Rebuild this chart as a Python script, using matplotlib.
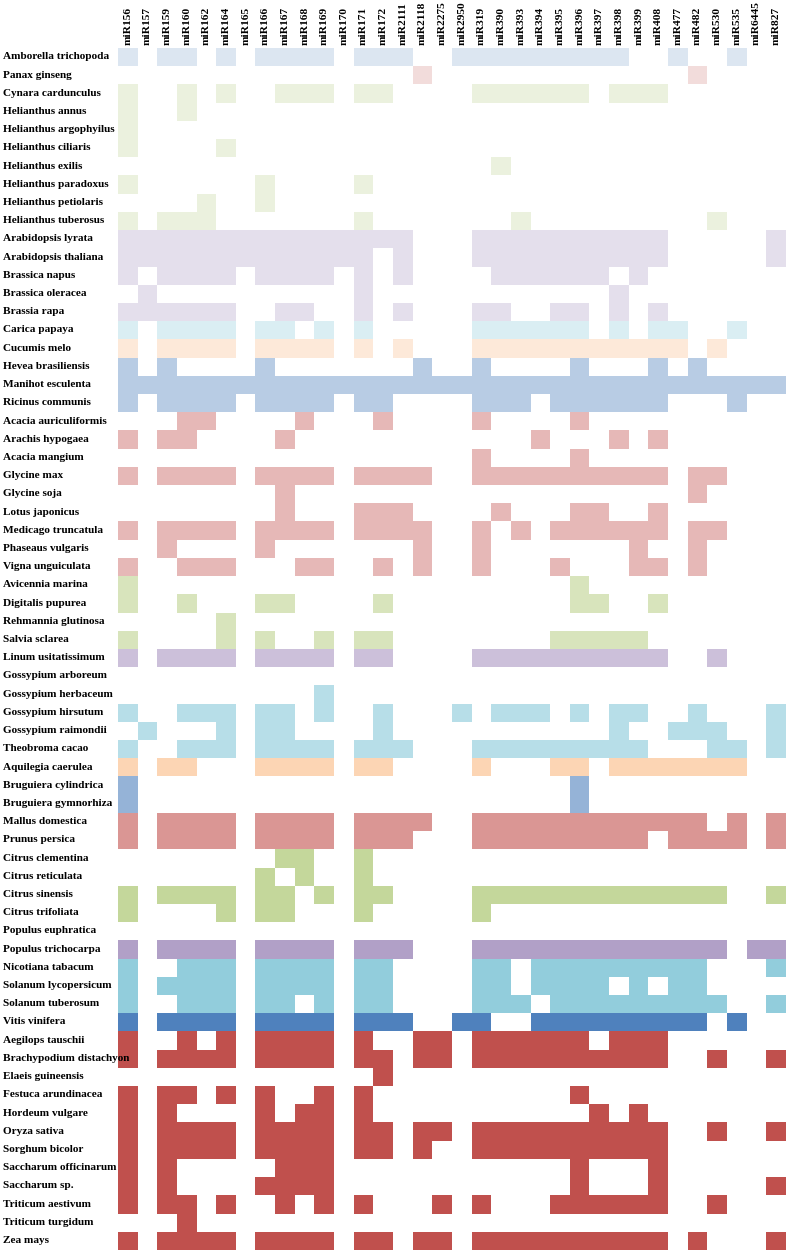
import numpy as np
import matplotlib
matplotlib.use("Agg")
import matplotlib.pyplot as plt
from matplotlib.colors import to_rgb

mirnas = ["miR156", "miR157", "miR159", "miR160", "miR162", "miR164", "miR165", "miR166",
          "miR167", "miR168", "miR169", "miR170", "miR171", "miR172", "miR2111", "miR2118",
          "miR2275", "miR2950", "miR319", "miR390", "miR393", "miR394", "miR395", "miR396",
          "miR397", "miR398", "miR399", "miR408", "miR477", "miR482", "miR530", "miR535",
          "miR6445", "miR827"]

species = ["Amborella trichopoda", "Panax ginseng", "Cynara cardunculus", "Helianthus annus",
           "Helianthus argophyilus", "Helianthus ciliaris", "Helianthus exilis",
           "Helianthus paradoxus", "Helianthus petiolaris", "Helianthus tuberosus",
           "Arabidopsis lyrata", "Arabidopsis thaliana", "Brassica napus", "Brassica oleracea",
           "Brassia rapa", "Carica papaya", "Cucumis melo", "Hevea brasiliensis",
           "Manihot esculenta", "Ricinus communis", "Acacia auriculiformis", "Arachis hypogaea",
           "Acacia mangium", "Glycine max", "Glycine soja", "Lotus japonicus",
           "Medicago truncatula", "Phaseaus vulgaris", "Vigna unguiculata", "Avicennia marina",
           "Digitalis pupurea", "Rehmannia glutinosa", "Salvia sclarea", "Linum usitatissimum",
           "Gossypium arboreum", "Gossypium herbaceum", "Gossypium hirsutum",
           "Gossypium raimondii", "Theobroma cacao", "Aquilegia caerulea",
           "Bruguiera cylindrica", "Bruguiera gymnorhiza", "Mallus domestica", "Prunus persica",
           "Citrus clementina", "Citrus reticulata", "Citrus sinensis", "Citrus trifoliata",
           "Populus euphratica", "Populus trichocarpa", "Nicotiana tabacum",
           "Solanum lycopersicum", "Solanum tuberosum", "Vitis vinifera", "Aegilops tauschii",
           "Brachypodium distachyon", "Elaeis guineensis", "Festuca arundinacea",
           "Hordeum vulgare", "Oryza sativa", "Sorghum bicolor", "Saccharum officinarum",
           "Saccharum sp.", "Triticum aestivum", "Triticum turgidum", "Zea mays"]

# family group of each species (same order as species)
groups = (["amborella", "panax"] + ["aster"] * 8 + ["brassica"] * 5 + ["carica", "cucumis"]
          + ["euphorb"] * 3 + ["fabaceae"] * 9 + ["lamiales"] * 4 + ["linum"]
          + ["malvaceae"] * 5 + ["aquilegia"] + ["bruguiera"] * 2 + ["rosaceae"] * 2
          + ["citrus"] * 4 + ["populus"] * 2 + ["solanaceae"] * 3 + ["vitis"]
          + ["monocot"] * 12)

group_colors = {
    "amborella": "#dce6f1", "panax": "#f2dcdb", "aster": "#ebf1de", "brassica": "#e4dfec",
    "carica": "#daeef3", "cucumis": "#fde9d9", "euphorb": "#b8cce4", "fabaceae": "#e6b8b7",
    "lamiales": "#d8e4bc", "linum": "#ccc0da", "malvaceae": "#b7dee8", "aquilegia": "#fcd5b4",
    "bruguiera": "#95b3d7", "rosaceae": "#da9694", "citrus": "#c4d79b", "populus": "#b1a0c7",
    "solanaceae": "#92cddc", "vitis": "#4f81bd", "monocot": "#c0504d",
}

# column indices (into mirnas) of miRNA families present in each species
presence = [
    [0, 2, 3, 5, 7, 8, 9, 10, 12, 13, 14, 17, 18, 19, 20, 21, 22, 23, 24, 25, 28, 31],
    [15, 29],
    [0, 3, 5, 8, 9, 10, 12, 13, 18, 19, 20, 21, 22, 23, 25, 26, 27],
    [0, 3],
    [0],
    [0, 5],
    [19],
    [0, 7, 12],
    [4, 7],
    [0, 2, 3, 4, 12, 20, 30],
    [0, 1, 2, 3, 4, 5, 6, 7, 8, 9, 10, 11, 12, 13, 14, 18, 19, 20, 21, 22, 23, 24, 25, 26, 27, 33],
    [0, 1, 2, 3, 4, 5, 6, 7, 8, 9, 10, 11, 12, 14, 18, 19, 20, 21, 22, 23, 24, 25, 26, 27, 33],
    [0, 2, 3, 4, 5, 7, 8, 9, 10, 12, 14, 19, 20, 21, 22, 23, 24, 26],
    [1, 12, 25],
    [0, 1, 2, 3, 4, 5, 8, 9, 12, 14, 18, 19, 22, 23, 25, 27],
    [0, 2, 3, 4, 5, 7, 8, 10, 12, 18, 19, 20, 21, 22, 23, 25, 27, 28, 31],
    [0, 2, 3, 4, 5, 7, 8, 9, 10, 12, 14, 18, 19, 20, 21, 22, 23, 24, 25, 26, 27, 28, 30],
    [0, 2, 7, 15, 18, 23, 27, 29],
    list(range(34)),
    [0, 2, 3, 4, 5, 7, 8, 9, 10, 12, 13, 18, 19, 20, 22, 23, 24, 25, 26, 27, 31],
    [3, 4, 9, 13, 18, 23],
    [0, 2, 3, 8, 21, 25, 27],
    [18, 23],
    [0, 2, 3, 4, 5, 7, 8, 9, 10, 12, 13, 14, 15, 18, 19, 20, 21, 22, 23, 24, 25, 26, 27, 29, 30],
    [8, 29],
    [8, 12, 13, 14, 19, 23, 24, 27],
    [0, 2, 3, 4, 5, 7, 8, 9, 10, 12, 13, 14, 15, 18, 20, 22, 23, 24, 25, 26, 27, 29, 30],
    [2, 7, 15, 18, 26, 29],
    [0, 3, 4, 5, 9, 10, 13, 15, 18, 22, 26, 27, 29],
    [0, 23],
    [0, 3, 7, 8, 13, 23, 24, 27],
    [5],
    [0, 5, 7, 10, 12, 13, 22, 23, 24, 25, 26],
    [0, 2, 3, 4, 5, 7, 8, 9, 10, 12, 13, 18, 19, 20, 21, 22, 23, 24, 25, 26, 27, 30],
    [],
    [10],
    [0, 3, 4, 5, 7, 8, 10, 13, 17, 19, 20, 21, 23, 25, 26, 29, 33],
    [1, 5, 7, 8, 13, 25, 28, 29, 30, 33],
    [0, 3, 4, 5, 7, 8, 9, 10, 12, 13, 14, 18, 19, 20, 21, 22, 23, 24, 25, 26, 30, 31, 33],
    [0, 2, 3, 7, 8, 9, 10, 12, 13, 18, 22, 23, 25, 26, 27, 28, 29, 30, 31],
    [0, 23],
    [0, 23],
    [0, 2, 3, 4, 5, 7, 8, 9, 10, 12, 13, 14, 15, 18, 19, 20, 21, 22, 23, 24, 25, 26, 27, 28, 29, 31, 33],
    [0, 2, 3, 4, 5, 7, 8, 9, 10, 12, 13, 14, 18, 19, 20, 21, 22, 23, 24, 25, 26, 28, 29, 30, 31, 33],
    [8, 9, 12],
    [7, 9, 12],
    [0, 2, 3, 4, 5, 7, 8, 10, 12, 13, 18, 19, 20, 21, 22, 23, 24, 25, 26, 27, 28, 29, 30, 33],
    [0, 5, 7, 8, 12, 18],
    [],
    [0, 2, 3, 4, 5, 7, 8, 9, 10, 12, 13, 14, 18, 19, 20, 21, 22, 23, 24, 25, 26, 27, 28, 29, 30, 32, 33],
    [0, 3, 4, 5, 7, 8, 9, 10, 12, 13, 18, 19, 21, 22, 23, 24, 25, 26, 27, 28, 29, 33],
    [0, 2, 3, 4, 5, 7, 8, 9, 10, 12, 13, 18, 19, 21, 22, 23, 24, 26, 28, 29],
    [0, 3, 4, 5, 7, 8, 10, 12, 13, 18, 19, 20, 22, 23, 24, 25, 26, 27, 28, 29, 30, 33],
    [0, 2, 3, 4, 5, 7, 8, 9, 10, 12, 13, 14, 17, 18, 21, 22, 23, 24, 25, 26, 27, 28, 29, 31],
    [0, 3, 5, 7, 8, 9, 10, 12, 15, 16, 18, 19, 20, 21, 22, 23, 25, 26, 27],
    [0, 2, 3, 4, 5, 7, 8, 9, 10, 12, 13, 15, 16, 18, 19, 20, 21, 22, 23, 24, 25, 26, 27, 30, 33],
    [13],
    [0, 2, 3, 5, 7, 10, 12, 23],
    [0, 2, 7, 9, 10, 12, 24, 26],
    [0, 2, 3, 4, 5, 7, 8, 9, 10, 12, 13, 15, 16, 18, 19, 20, 21, 22, 23, 24, 25, 26, 27, 30, 33],
    [0, 2, 3, 4, 5, 7, 8, 9, 10, 12, 13, 15, 18, 19, 20, 21, 22, 23, 24, 25, 26, 27],
    [0, 2, 8, 9, 10, 23, 27],
    [0, 2, 7, 8, 9, 10, 23, 27, 33],
    [0, 2, 3, 5, 8, 10, 12, 16, 18, 22, 23, 24, 25, 26, 27, 30],
    [3],
    [0, 2, 3, 4, 5, 7, 8, 9, 10, 12, 13, 15, 16, 18, 19, 20, 21, 22, 23, 24, 25, 26, 27, 29, 33],
]

n_rows, n_cols = len(species), len(mirnas)
img = np.ones((n_rows, n_cols, 3))
for r, cols in enumerate(presence):
    rgb = to_rgb(group_colors[groups[r]])
    for c in cols:
        img[r, c] = rgb

W, H = 790, 1257
fig = plt.figure(figsize=(W / 100, H / 100), dpi=100)
left, right = 118 / W, 786 / W
top, bottom = 1 - 47.7 / H, 1 - 1249.6 / H
ax = fig.add_axes([left, bottom, right - left, top - bottom])
ax.imshow(img, aspect="auto", interpolation="nearest",
          extent=(-0.5, n_cols - 0.5, n_rows - 0.5, -0.5))
ax.set_xlim(-0.5, n_cols - 0.5)
ax.set_ylim(n_rows - 0.5, -0.5)
for s in ax.spines.values():
    s.set_visible(False)

xfont = dict(family="Liberation Serif", weight="bold", size=8.2)
yfont = dict(family="Liberation Serif", weight="bold", size=8.1)
ax.xaxis.tick_top()
ax.set_xticks(range(n_cols))
ax.set_xticklabels(mirnas, rotation=90, va="bottom", ha="center", fontdict=xfont)
ax.set_yticks(range(n_rows))
ax.set_yticklabels(species, ha="left", va="center", fontdict=yfont)
ax.tick_params(axis="x", length=0, pad=2)
ax.tick_params(axis="y", length=0, pad=115 * 0.72)

fig.savefig("out.png", dpi=100, facecolor="white")
